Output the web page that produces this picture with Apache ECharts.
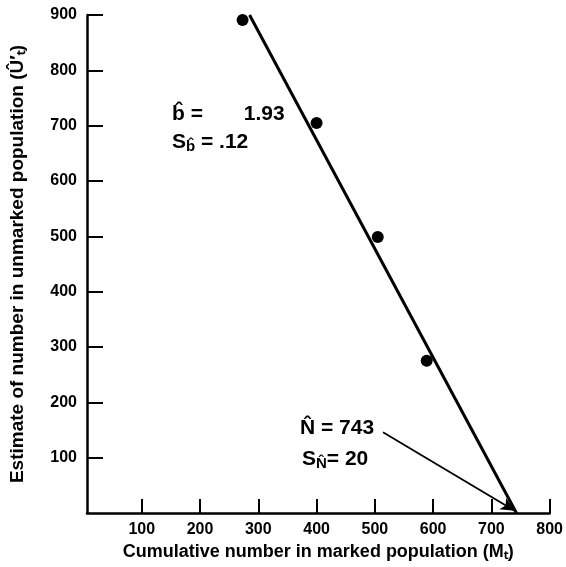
<!DOCTYPE html>
<html>
<head>
<meta charset="utf-8">
<script src="https://cdn.jsdelivr.net/npm/echarts@6/dist/echarts.min.js"></script>
<style>html,body{margin:0;padding:0;background:#fff;}#c{width:566px;height:567px;}</style>
</head>
<body>
<div id="c"></div>
<script>
// Observed points
const markedM = [273, 400, 505, 589];
const unmarkedU = [891, 705, 499, 275];
// Fitted regression line endpoints
const fitM = [285, 743];
const fitU = [900, 0];
// Arrow from N-hat label to intercept
const arrowFrom = [514, 146];
const arrowTo = [740, 4];
// Tick labels
const xTicks = [100, 200, 300, 400, 500, 600, 700, 800];
const yTicks = [100, 200, 300, 400, 500, 600, 700, 800, 900];

const FONT = "'Liberation Sans', Arial, sans-serif";
const chart = echarts.init(document.getElementById('c'), null, {renderer: 'canvas'});

function txt(size) {
  return {fontFamily: FONT, fontWeight: 'bold', fontSize: size, fill: '#000'};
}

const option = {
  backgroundColor: '#fff',
  animation: false,
  grid: {left: 87, top: 15, width: 463, height: 498, containLabel: false},
  xAxis: {
    type: 'value', min: 6, max: 800,
    name: 'Cumulative number in marked population (Mₜ)',
    nameLocation: 'middle', nameGap: 28,
    nameTextStyle: {color: '#000', fontFamily: FONT, fontWeight: 'bold', fontSize: 18},
    axisLine: {show: true, lineStyle: {color: '#000', width: 2.5}},
    axisTick: {show: true, inside: true, length: 14, customValues: xTicks, lineStyle: {color: '#000', width: 2}},
    axisLabel: {show: true, customValues: xTicks, color: '#000', fontFamily: FONT, fontWeight: 'bold', fontSize: 16, margin: 9},
    splitLine: {show: false}
  },
  yAxis: {
    type: 'value', min: 0, max: 900,
    name: 'Estimate of number in unmarked population (Û′ₜ)',
    nameLocation: 'middle', nameGap: 60, nameRotate: 90,
    nameTextStyle: {color: '#000', fontFamily: FONT, fontWeight: 'bold', fontSize: 19},
    axisLine: {show: true, lineStyle: {color: '#000', width: 2.5}},
    axisTick: {show: true, inside: true, length: 16, customValues: yTicks, lineStyle: {color: '#000', width: 2}},
    axisLabel: {show: true, customValues: yTicks, color: '#000', fontFamily: FONT, fontWeight: 'bold', fontSize: 16, margin: 10},
    splitLine: {show: false}
  },
  series: [
    {
      type: 'line',
      data: fitM.map((m, i) => [m, fitU[i]]),
      showSymbol: false, symbol: 'none',
      lineStyle: {color: '#000', width: 3},
      silent: true,
      markLine: {
        silent: true,
        symbol: ['none', 'arrow'],
        symbolSize: [10, 14],
        label: {show: false},
        lineStyle: {color: '#000', width: 1.8, type: 'solid', opacity: 1},
        itemStyle: {color: '#000'},
        data: [[{coord: arrowFrom}, {coord: arrowTo}]]
      }
    },
    {
      type: 'scatter',
      data: markedM.map((m, i) => [m, unmarkedU[i]]),
      symbol: 'circle', symbolSize: 12,
      itemStyle: {color: '#000', opacity: 1}
    }
  ],
  graphic: [
    {type: 'text', left: 172, top: 104, style: {
      text: '{b|b\u0302}{t| =       1.93}',
      rich: {b: txt(21), t: txt(21)}}},
    {type: 'text', left: 172, top: 132, style: {
      text: '{s|S}{b|b\u0302}{t| = .12}',
      rich: {s: txt(21), b: Object.assign(txt(15), {padding: [9, 0, 0, 0]}), t: txt(21)}}},
    {type: 'text', left: 300, top: 418, style: {
      text: '{n|N\u0302}{t| = 743}',
      rich: {n: txt(21), t: txt(21)}}},
    {type: 'text', left: 302, top: 449, style: {
      text: '{s|S}{n|N\u0302}{t|= 20}',
      rich: {s: txt(21), n: Object.assign(txt(15), {padding: [9, 0, 0, 0]}), t: txt(21)}}}
  ]
};
chart.setOption(option);
</script>
</body>
</html>
